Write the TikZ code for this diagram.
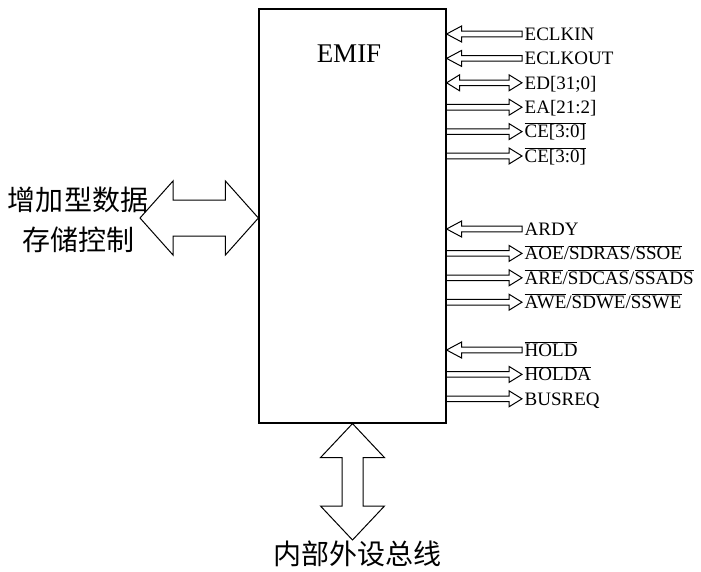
\documentclass[tikz,border=0pt]{standalone}
\usepackage{fontspec}
\setmainfont{Liberation Serif}
\newfontfamily\cjk{Noto Sans CJK SC}
\usepackage{xcolor}
\usepackage{tikz}
\usetikzlibrary{positioning, calc}

\newcommand{\ovl}[1]{$\overline{\hbox{#1}}$}

\begin{document}
\begin{tikzpicture}[
			x=1pt, y=-1pt,
			box/.style={draw, rectangle, line width=1.2pt, minimum width=187pt, minimum height=414pt, inner sep=0pt},
			title/.style={font=\fontsize{27}{32}\selectfont},
			sig/.style={anchor=west, inner xsep=2.5pt, inner ysep=2.3pt, text height=16pt, text depth=3.4pt, font=\fontsize{19}{23}\selectfont},
			sigbelow/.style={below=0pt of #1.south west, anchor=north west},
			cjklabel/.style={font=\cjk\fontsize{28}{40}\selectfont, align=center, inner sep=0pt},
			sigout/.style={line width=1pt, to path={let \p1=(\tikztostart), \p2=(\tikztotarget) in
				(\x1,\y1+2.8pt) -- (\x2-13pt,\y1+2.8pt) -- (\x2-13pt,\y1+8pt) -- (\x2,\y1)
				-- (\x2-13pt,\y1-8pt) -- (\x2-13pt,\y1-2.8pt) -- (\x1,\y1-2.8pt)}},
			sigin/.style={line width=1pt, to path={let \p1=(\tikztostart), \p2=(\tikztotarget) in
				(\x2,\y1+2.8pt) -- (\x1+15pt,\y1+2.8pt) -- (\x1+15pt,\y1+8pt) -- (\x1,\y1)
				-- (\x1+15pt,\y1-8pt) -- (\x1+15pt,\y1-2.8pt) -- (\x2,\y1-2.8pt) -- cycle}},
			hbidir/.style n args={3}{line width=1pt, to path={let \p1=(\tikztostart), \p2=(\tikztotarget) in
				(\x1,\y1) -- (\x1+#3,\y1+#2) -- (\x1+#3,\y1+#1) -- (\x2-#3,\y1+#1) -- (\x2-#3,\y1+#2) -- (\x2,\y1)
				-- (\x2-#3,\y1-#2) -- (\x2-#3,\y1-#1) -- (\x1+#3,\y1-#1) -- (\x1+#3,\y1-#2) -- cycle}},
			vbidir/.style n args={3}{line width=1pt, to path={let \p1=(\tikztostart), \p2=(\tikztotarget) in
				(\x1,\y1) -- (\x1+#2,\y1-#3) -- (\x1+#1,\y1-#3) -- (\x1+#1,\y2+#3) -- (\x1+#2,\y2+#3) -- (\x1,\y2)
				-- (\x1-#2,\y2+#3) -- (\x1-#1,\y2+#3) -- (\x1-#1,\y1-#3) -- (\x1-#2,\y1-#3) -- cycle}}
		]
		\useasboundingbox (0,0) rectangle (701,571);

		% EMIF block
		\node[box] (emif) at (352.5,216) {};
		\node[title] (emiftitle) at (349,54) {EMIF};

		% Clock and bus signals
		\node[sig] (eclkin) at (522,34) {ECLKIN};
		\node[sig, sigbelow=eclkin] (eclkout) {ECLKOUT};
		\node[sig, sigbelow=eclkout] (ed) {ED[31;0]};
		\node[sig, sigbelow=ed] (ea) {EA[21:2]};
		\node[sig, sigbelow=ea] (cea) {\ovl{CE[3:0]}};
		\node[sig, sigbelow=cea] (ceb) {\ovl{CE[3:0]}};

		% Async / SDRAM / SBSRAM strobes
		\node[sig] (ardy) at (522,229) {ARDY};
		\node[sig, sigbelow=ardy] (aoe) {\ovl{AOE}/\ovl{SDRAS}/\ovl{SSOE}};
		\node[sig, sigbelow=aoe] (are) {\ovl{ARE}/\ovl{SDCAS}/\ovl{SSADS}};
		\node[sig, sigbelow=are] (awe) {\ovl{AWE}/\ovl{SDWE}/\ovl{SSWE}};

		% Hold interface
		\node[sig] (hold) at (522,350) {\ovl{HOLD}};
		\node[sig, sigbelow=hold] (holda) {\ovl{HOLDA}};
		\node[sig, sigbelow=holda] (busreq) {BUSREQ};

		% Side labels
		\node[cjklabel] (ctrl) at (78,220) {增加型数据\\存储控制};
		\node[cjklabel] (bus) at (357,554) {内部外设总线};
		\coordinate (ctrltip) at (140,218);
		\coordinate (busend) at (352.5,540);

		% Signal arrows
		\draw[sigin] (emif.east |- eclkin.west) to (eclkin.west);
		\draw[sigin] (emif.east |- eclkout.west) to (eclkout.west);
		\draw[hbidir={2.8pt}{8pt}{13pt}] (emif.east |- ed.west) to (ed.west);
		\draw[sigout] (emif.east |- ea.west) to (ea.west);
		\draw[sigout] (emif.east |- cea.west) to (cea.west);
		\draw[sigout] (emif.east |- ceb.west) to (ceb.west);
		\draw[sigin] (emif.east |- ardy.west) to (ardy.west);
		\draw[sigout] (emif.east |- aoe.west) to (aoe.west);
		\draw[sigout] (emif.east |- are.west) to (are.west);
		\draw[sigout] (emif.east |- awe.west) to (awe.west);
		\draw[sigin] (emif.east |- hold.west) to (hold.west);
		\draw[sigout] (emif.east |- holda.west) to (holda.west);
		\draw[sigout] (emif.east |- busreq.west) to (busreq.west);

		% Wide bus arrows
		\draw[hbidir={18pt}{37pt}{33pt}] (ctrltip) to (emif.west |- ctrltip);
		\draw[vbidir={10.5pt}{32pt}{34pt}] (emif.south) to (busend);

		\end{tikzpicture}
\end{document}
